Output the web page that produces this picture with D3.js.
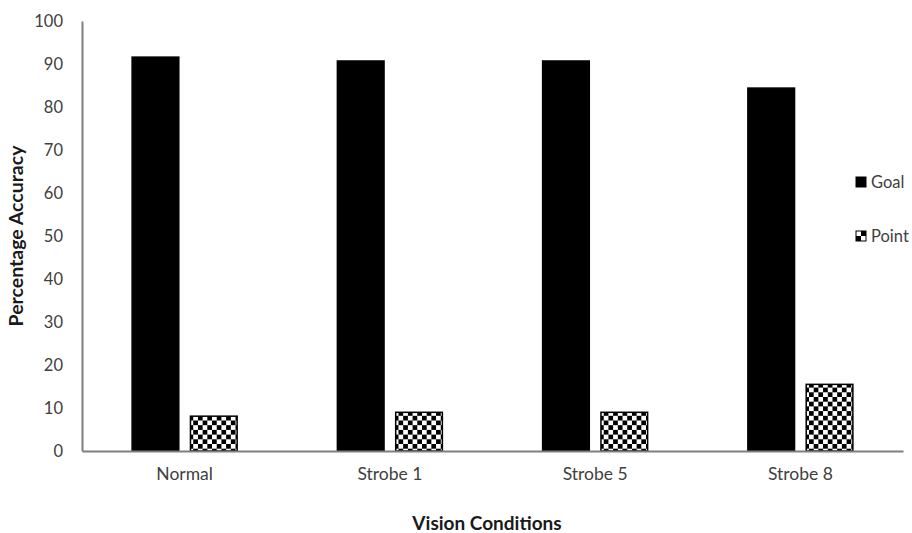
<!DOCTYPE html>
<html lang="en">
<head>
    <meta charset="UTF-8">
    <title>Vision Conditions</title>
    <script src="https://d3js.org/d3.v7.min.js"></script>
    <style>
        body { margin: 0; background: #fff; }
        text { font-family: Lato, "Open Sans", sans-serif; }
    </style>
</head>
<body>
    <svg width="912" height="533" id="grafico"></svg>
    <script>
        // datos del grafico
        var categories = ["Normal", "Strobe 1", "Strobe 5", "Strobe 8"];
        var seriesNames = ["Goal", "Point"];
        var goalValues = [91.6, 90.7, 90.7, 84.4];
        var pointValues = [8.1, 9.0, 9.0, 15.5];
        var yTicks = [0, 10, 20, 30, 40, 50, 60, 70, 80, 90, 100];

        var svg = d3.select("svg"),
            margin = { top: 21, right: 9, bottom: 82, left: 82 },
            width = +svg.attr("width") - margin.left - margin.right,
            height = +svg.attr("height") - margin.top - margin.bottom;

        var rows = categories.map(function (c, i) {
            return { cat: c, Goal: goalValues[i], Point: pointValues[i] };
        });

        var x0 = d3.scaleBand().domain(categories).range([0, width]);
        var x1 = d3.scaleBand().domain(seriesNames).range([0, 105]).paddingInner(0.2);
        var y = d3.scaleLinear().domain([0, 100]).range([height, 0]);

        // patron de tablero
        var defs = svg.append("defs");
        var pat = defs.append("pattern")
            .attr("id", "checker")
            .attr("patternUnits", "userSpaceOnUse")
            .attr("width", 9.4).attr("height", 9.4);
        pat.append("rect").attr("width", 9.4).attr("height", 9.4).attr("fill", "#fff");
        pat.append("rect").attr("width", 4.7).attr("height", 4.7).attr("fill", "#000");
        pat.append("rect").attr("x", 4.7).attr("y", 4.7).attr("width", 4.7).attr("height", 4.7).attr("fill", "#000");

        var g = svg.append("g")
            .attr("transform", "translate(" + margin.left + "," + margin.top + ")");

        var fills = { Goal: "#000", Point: "url(#checker)" };

        var groups = g.selectAll(".grupo")
            .data(rows)
            .enter().append("g")
            .attr("class", "grupo")
            .attr("transform", function (d) {
                return "translate(" + (x0(d.cat) + x0.bandwidth() / 2 - 52.5) + ",0)";
            });

        groups.selectAll("rect")
            .data(function (d) { return seriesNames.map(function (k) { return { key: k, value: d[k] }; }); })
            .enter().append("rect")
            .attr("x", function (d) { return x1(d.key); })
            .attr("y", function (d) { return y(d.value); })
            .attr("width", x1.bandwidth())
            .attr("height", function (d) { return height - y(d.value); })
            .attr("fill", function (d) { return fills[d.key]; })
            .attr("stroke", "#000")
            .attr("stroke-width", 1.5);

        // ejes
        var yAxis = g.append("g")
            .call(d3.axisLeft(y).tickValues(yTicks).tickSize(0).tickPadding(19));
        yAxis.select(".domain").attr("stroke", "#7f7f7f").attr("stroke-width", 2);
        yAxis.selectAll("text").attr("fill", "#404040").style("font-size", "16.5px");

        var xAxis = g.append("g")
            .attr("transform", "translate(0," + height + ")")
            .call(d3.axisBottom(x0).tickSize(0).tickPadding(17));
        xAxis.select(".domain").attr("stroke", "#7f7f7f").attr("stroke-width", 2);
        xAxis.selectAll("text").attr("fill", "#404040").style("font-size", "17.5px");

        // titulos
        svg.append("text")
            .attr("transform", "translate(23," + (margin.top + height / 2) + ") rotate(-90)")
            .attr("text-anchor", "middle")
            .style("font-size", "19.5px")
            .style("font-weight", "bold")
            .attr("fill", "#1a1a1a")
            .text("Percentage Accuracy");

        svg.append("text")
            .attr("x", 487)
            .attr("y", 530)
            .attr("text-anchor", "middle")
            .style("font-size", "19px")
            .style("font-weight", "bold")
            .attr("fill", "#1a1a1a")
            .text("Vision Conditions");

        // leyenda
        var legend = svg.append("g").attr("transform", "translate(856,177)");
        var items = legend.selectAll(".item")
            .data(seriesNames)
            .enter().append("g")
            .attr("transform", function (d, i) { return "translate(0," + (i * 54) + ")"; });
        items.append("rect")
            .attr("width", 10).attr("height", 10)
            .attr("fill", function (d) { return d == "Goal" ? "#000" : "#fff"; })
            .attr("stroke", "#000").attr("stroke-width", 1);
        items.filter(function (d) { return d == "Point"; }).append("rect")
            .attr("x", 5).attr("width", 5).attr("height", 5).attr("fill", "#000");
        items.filter(function (d) { return d == "Point"; }).append("rect")
            .attr("y", 5).attr("width", 5).attr("height", 5).attr("fill", "#000");
        items.append("text")
            .attr("x", 15).attr("y", 11)
            .style("font-size", "16.5px")
            .attr("fill", "#404040")
            .text(function (d) { return d; });
    </script>
</body>
</html>
